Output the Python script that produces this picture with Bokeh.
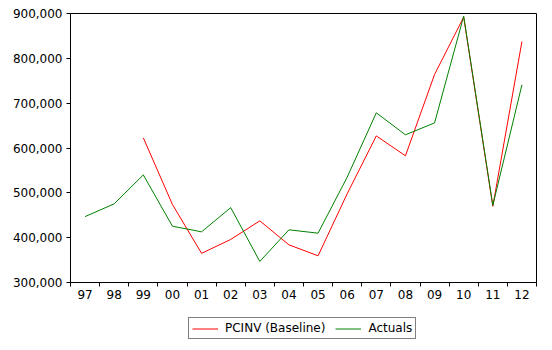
from bokeh.plotting import figure
from bokeh.layouts import column
from bokeh.models import FixedTicker, NumeralTickFormatter, Range1d, Legend, LegendItem
from bokeh.embed import file_html
from bokeh.resources import INLINE

years = ["97", "98", "99", "00", "01", "02", "03", "04", "05", "06", "07", "08", "09", "10", "11", "12"]
baseline = [None, None, 622700, 474000, 365000, 396000, 437500, 384000, 359500, 498000,
            627000, 582600, 764000, 892000, 470000, 837600]
actuals = [447000, 475500, 540000, 425600, 413000, 467000, 347000, 417500, 410000, 535000,
           678500, 629400, 656000, 894000, 472000, 741000]
y_ticks = [300000, 400000, 500000, 600000, 700000, 800000, 900000]

xs = [i + 0.5 for i in range(len(years))]
base_y = [float("nan") if v is None else v for v in baseline]

FONT = "DejaVu Sans"
FS = "12px"
RED = "#FF0000"
GREEN = "#008000"

p = figure(width=552, height=310, output_backend="svg", toolbar_location=None,
           x_range=Range1d(0, len(years)), y_range=Range1d(y_ticks[0], y_ticks[-1]),
           min_border_left=70, min_border_right=16, min_border_top=13, min_border_bottom=28)
p.background_fill_color = "white"
p.border_fill_color = "white"
p.outline_line_color = "black"
p.outline_line_width = 1
p.xgrid.visible = False
p.ygrid.visible = False

p.line(xs, base_y, line_color=RED, line_width=1)
p.line(xs, actuals, line_color=GREEN, line_width=1)

xa = p.xaxis[0]
xa.ticker = FixedTicker(ticks=xs, minor_ticks=list(range(len(years) + 1)))
xa.major_label_overrides = {x: y for x, y in zip(xs, years)}
xa.major_tick_out = 0
xa.major_tick_in = 0
xa.minor_tick_out = 4
xa.minor_tick_in = 0
xa.major_label_standoff = 3
xa.axis_line_color = "black"
xa.minor_tick_line_color = "black"
xa.major_label_text_font = FONT
xa.major_label_text_font_size = FS
xa.major_label_text_color = "black"

ya = p.yaxis[0]
ya.ticker = FixedTicker(ticks=y_ticks, minor_ticks=[])
ya.formatter = NumeralTickFormatter(format="0,0")
ya.major_tick_out = 4
ya.major_tick_in = 0
ya.minor_tick_out = 0
ya.minor_tick_in = 0
ya.major_label_standoff = 4
ya.axis_line_color = "black"
ya.major_tick_line_color = "black"
ya.major_label_text_font = FONT
ya.major_label_text_font_size = FS
ya.major_label_text_color = "black"

# legend strip below the chart (same series, drawn outside its visible range)
q = figure(width=552, height=40, output_backend="svg", toolbar_location=None,
           x_range=Range1d(0, 1), y_range=Range1d(0, 1),
           x_axis_type=None, y_axis_type=None,
           min_border_left=0, min_border_right=0, min_border_top=0, min_border_bottom=0)
q.outline_line_color = None
q.xgrid.visible = False
q.ygrid.visible = False
q.background_fill_color = "white"
q.border_fill_color = "white"
l1 = q.line(xs, base_y, line_color=RED, line_width=1)
l2 = q.line(xs, actuals, line_color=GREEN, line_width=1)

legend = Legend(items=[LegendItem(label="PCINV (Baseline)", renderers=[l1]),
                       LegendItem(label="Actuals", renderers=[l2])],
                orientation="horizontal", location=(118, 11))
legend.border_line_color = "black"
legend.border_line_width = 1
legend.padding = 3
legend.spacing = 10
legend.margin = 0
legend.glyph_width = 26
legend.glyph_height = 11
legend.label_height = 11
legend.label_standoff = 7
legend.label_text_font = FONT
legend.label_text_font_size = FS
legend.label_text_color = "black"
legend.background_fill_alpha = 1
q.add_layout(legend, "center")

layout = column(p, q, spacing=0)
open("out.html", "w").write(file_html(layout, INLINE))
